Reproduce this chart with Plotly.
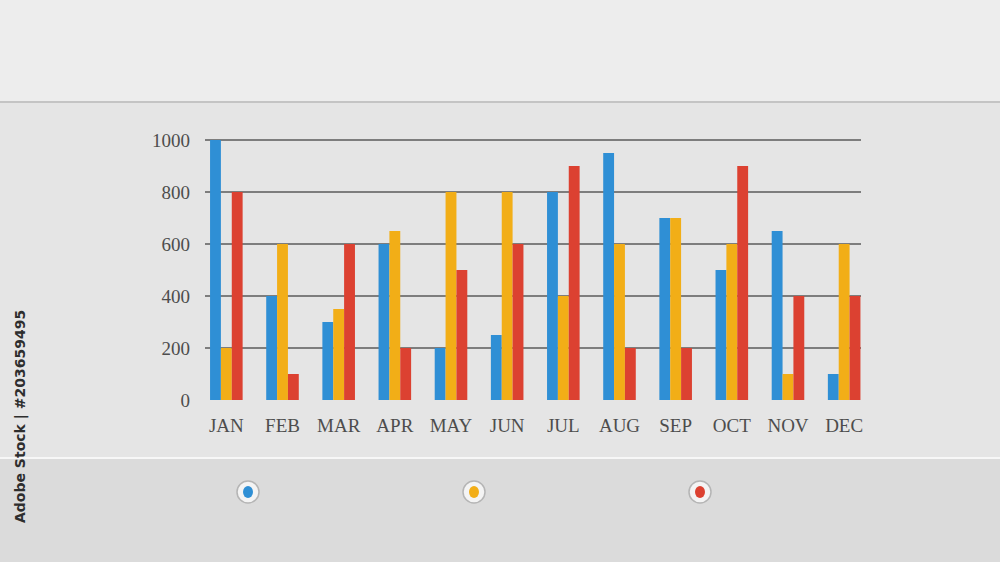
import plotly.graph_objects as go

# monthly values
months = ["JAN", "FEB", "MAR", "APR", "MAY", "JUN", "JUL", "AUG", "SEP", "OCT", "NOV", "DEC"]
blue_vals = [1000, 400, 300, 600, 200, 250, 800, 950, 700, 500, 650, 100]
orange_vals = [200, 600, 350, 650, 800, 800, 400, 600, 700, 600, 100, 600]
red_vals = [800, 100, 600, 200, 500, 600, 900, 200, 200, 900, 400, 400]
y_ticks = [0, 200, 400, 600, 800, 1000]

colors = ["#2f8fd5", "#f2ae17", "#dc4131"]
series = [blue_vals, orange_vals, red_vals]

fig = go.Figure()
for vals, color in zip(series, colors):
    fig.add_trace(go.Bar(x=months, y=vals, marker=dict(color=color, line=dict(width=0)),
                         showlegend=False))

# plot area spans pixel x 205..861, y 139..400
def px_x(p):
    return (p - 205) / 656.0


def px_y(p):
    return (400 - p) / 261.0


shapes = []
# background bands
shapes.append(dict(type="rect", xref="paper", yref="paper", layer="below",
                   x0=px_x(0), x1=px_x(1000), y0=px_y(0), y1=px_y(102),
                   fillcolor="#ededed", line=dict(width=0)))
shapes.append(dict(type="line", xref="paper", yref="paper", layer="below",
                   x0=px_x(0), x1=px_x(1000), y0=px_y(102), y1=px_y(102),
                   line=dict(color="#c4c4c4", width=2)))
shapes.append(dict(type="rect", xref="paper", yref="paper", layer="below",
                   x0=px_x(0), x1=px_x(1000), y0=px_y(458), y1=px_y(562),
                   fillcolor="#dbdbdb", line=dict(width=0)))
shapes.append(dict(type="line", xref="paper", yref="paper", layer="below",
                   x0=px_x(0), x1=px_x(1000), y0=px_y(458), y1=px_y(458),
                   line=dict(color="#f7f7f7", width=2)))

# legend buttons
for cx, color in zip([248, 474, 700], colors):
    shapes.append(dict(type="circle", xref="paper", yref="paper",
                       xsizemode="pixel", ysizemode="pixel",
                       xanchor=px_x(cx), yanchor=px_y(492),
                       x0=-11, x1=11, y0=-11, y1=11,
                       fillcolor="#f4f4f4", line=dict(color="#b5b5b5", width=1.5)))
    shapes.append(dict(type="circle", xref="paper", yref="paper",
                       xsizemode="pixel", ysizemode="pixel",
                       xanchor=px_x(cx), yanchor=px_y(492),
                       x0=-5, x1=5, y0=-6, y1=6,
                       fillcolor=color, line=dict(width=0)))

annotations = [dict(xref="paper", yref="paper", x=px_x(20), y=px_y(417),
                    text="<b>Adobe Stock | #203659495</b>", textangle=-90,
                    showarrow=False, xanchor="center", yanchor="middle",
                    font=dict(family="DejaVu Sans", size=14, color="#2e2e2e"))]

fig.update_layout(
    width=1000,
    height=562,
    autosize=False,
    barmode="group",
    bargap=0.42,
    bargroupgap=0,
    margin=dict(l=205, r=139, t=139, b=162, autoexpand=False),
    paper_bgcolor="#e5e5e5",
    plot_bgcolor="rgba(0,0,0,0)",
    xaxis=dict(
        range=[-0.38, 11.3],
        showgrid=False,
        showline=False,
        zeroline=False,
        ticks="",
        tickfont=dict(family="Liberation Serif", size=19, color="#4d4d4d"),
        ticklabelstandoff=12,
    ),
    yaxis=dict(
        range=[0, 1004],
        tickvals=y_ticks,
        showgrid=True,
        gridcolor="#7d7d7d",
        gridwidth=1.5,
        zeroline=False,
        showline=False,
        ticks="",
        tickfont=dict(family="Liberation Serif", size=19, color="#4d4d4d"),
        ticklabelstandoff=14,
    ),
    shapes=shapes,
    annotations=annotations,
)

# drop the page's default body margin so the figure fills the window
fig.write_html("out.html", config={"displayModeBar": False},
               post_script="document.body.style.margin='0';")
